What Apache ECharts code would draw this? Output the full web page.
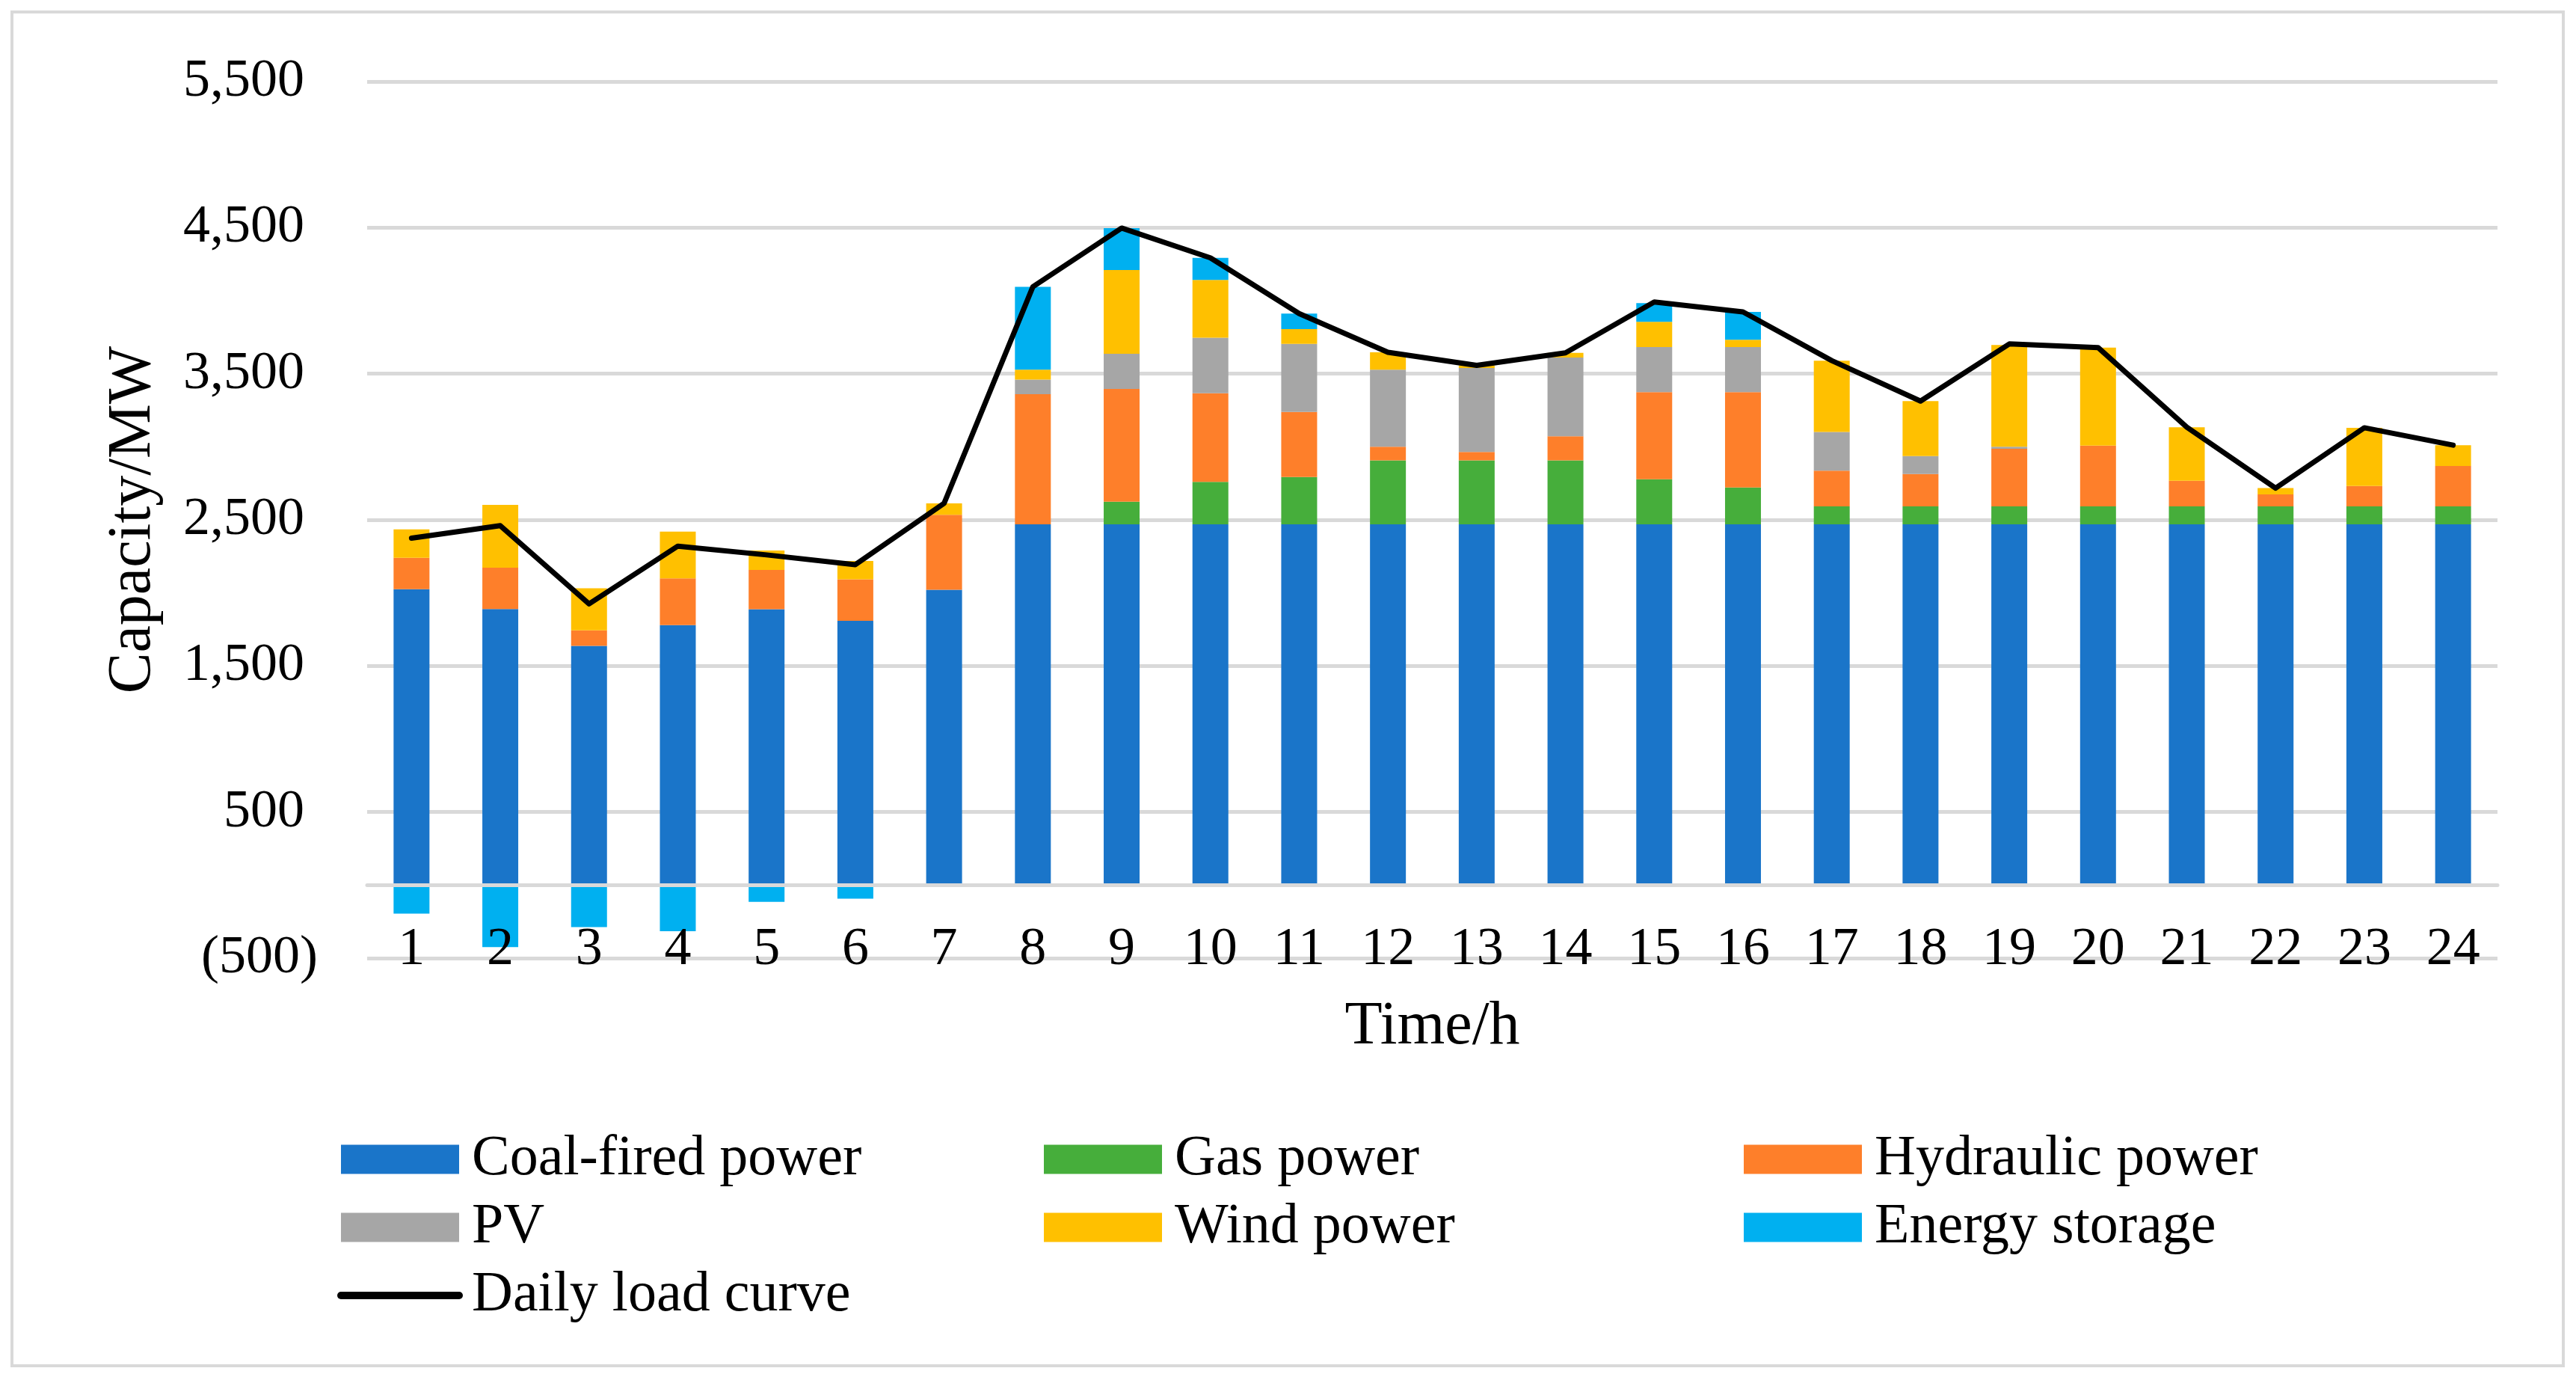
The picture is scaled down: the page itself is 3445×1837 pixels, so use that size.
<!DOCTYPE html>
<html>
<head>
<meta charset="utf-8">
<script src="https://cdn.jsdelivr.net/npm/echarts@6/dist/echarts.min.js"></script>
<style>
html,body{margin:0;padding:0;background:#fff;}
#c{width:3445px;height:1837px;}
</style>
</head>
<body>
<div id="c"></div>
<script>
const hours = ['1','2','3','4','5','6','7','8','9','10','11','12','13','14','15','16','17','18','19','20','21','22','23','24'];
const coal = [2025,1890,1637,1780,1888,1809,2021,2469,2469,2469,2469,2469,2469,2469,2469,2469,2469,2469,2469,2469,2469,2469,2469,2469];
const gas = [0,0,0,0,0,0,0,0,155,291,324,438,438,438,309,252,123,123,123,123,123,123,123,123];
const hydro = [215,282,107,320,269,284,513,891,772,607,445,94,58,165,596,653,244,222,394,416,175,82,140,276];
const pv = [0,0,0,0,0,0,0,100,240,380,466,527,574,539,309,309,265,122,15,0,0,0,0,0];
const wind = [195,430,288,319,133,125,79,68,574,395,101,119,18,32,172,50,488,377,696,671,367,43,398,143];
const storage = [-195,-425,-287,-316,-115,-93,0,567,287,151,107,0,0,0,129,190,0,0,0,0,0,0,0,0];
const load = [2375,2460,1925,2320,2260,2193,2613,4095,4497,4293,3912,3647,3557,3643,3991,3923,3590,3313,3704,3679,3134,2717,3130,3011];

const FONT = '"Liberation Serif", "Times New Roman", serif';
const colors = {
  coal: '#1a75c9', gas: '#46ae3b', hydro: '#fe7f2a', pv: '#a6a6a6', wind: '#ffc000', storage: '#00b0f0'
};
function fmt(n){ return String(n).replace(/\B(?=(\d{3})+(?!\d))/g, ','); }

const chart = echarts.init(document.getElementById('c'));
function barSeries(name, data, color){
  return { name, type:'bar', stack:'total', data, barWidth:48,
    itemStyle:{ color }, emphasis:{disabled:true} };
}
const legendBase = {
  orient:'vertical', top:1505, itemWidth:158, itemHeight:39, itemGap:11,
  selectedMode:false,
  textStyle:{ fontFamily:FONT, fontSize:76, color:'#000', lineHeight:80, padding:[0,0,0,12] },
  lineStyle:{ width:10, cap:'round' }
};
chart.setOption({
  animation:false,
  backgroundColor:'#fff',
  graphic:[{ type:'rect', silent:true, z:-1,
    shape:{ x:16, y:16, width:3412, height:1810 },
    style:{ fill:'none', stroke:'#d9d9d9', lineWidth:4 } }],
  grid:{ left:491, right:105, top:109, bottom:556, containLabel:false },
  legend:[
    Object.assign({}, legendBase, { left:446,
      data:[{name:'Coal-fired power', icon:'rect'},{name:'PV', icon:'rect'},
            {name:'Daily load curve', itemStyle:{opacity:0}}] }),
    Object.assign({}, legendBase, { left:1391,
      data:[{name:'Gas power', icon:'rect'},{name:'Wind power', icon:'rect'}] }),
    Object.assign({}, legendBase, { left:2327,
      data:[{name:'Hydraulic power', icon:'rect'},{name:'Energy storage', icon:'rect'}] })
  ],
  xAxis:{
    type:'category', data:hours, z:3,
    name:'Time/h', nameLocation:'middle', nameGap:51,
    nameTextStyle:{ fontFamily:FONT, fontSize:82, color:'#000' },
    axisLine:{ show:true, onZero:true, lineStyle:{ color:'#d9d9d9', width:5 } },
    axisTick:{ show:false },
    axisLabel:{ fontFamily:FONT, fontSize:72, color:'#000', margin:-47 },
    splitLine:{ show:false }
  },
  yAxis:{
    type:'value', min:-500, max:5500, interval:1000,
    name:'Capacity/MW', nameLocation:'middle', nameGap:272, nameRotate:90,
    nameTextStyle:{ fontFamily:FONT, fontSize:82, color:'#000' },
    axisLine:{ show:false }, axisTick:{ show:false },
    axisLabel:{ fontFamily:FONT, fontSize:72, color:'#000', margin:66,
      formatter: v => v < 0 ? '(' + fmt(-v) + ')' : fmt(v) + ' ' },
    splitLine:{ show:true, lineStyle:{ color:'#d9d9d9', width:5 } }
  },
  series:[
    barSeries('Coal-fired power', coal, colors.coal),
    barSeries('Gas power', gas, colors.gas),
    barSeries('Hydraulic power', hydro, colors.hydro),
    barSeries('PV', pv, colors.pv),
    barSeries('Wind power', wind, colors.wind),
    barSeries('Energy storage', storage, colors.storage),
    { name:'Daily load curve', type:'line', data:load, z:5, symbol:'none', showSymbol:false,
      lineStyle:{ color:'#000', width:7, cap:'round', join:'round' }, itemStyle:{ color:'#000' },
      emphasis:{disabled:true} }
  ]
});
</script>
</body>
</html>
